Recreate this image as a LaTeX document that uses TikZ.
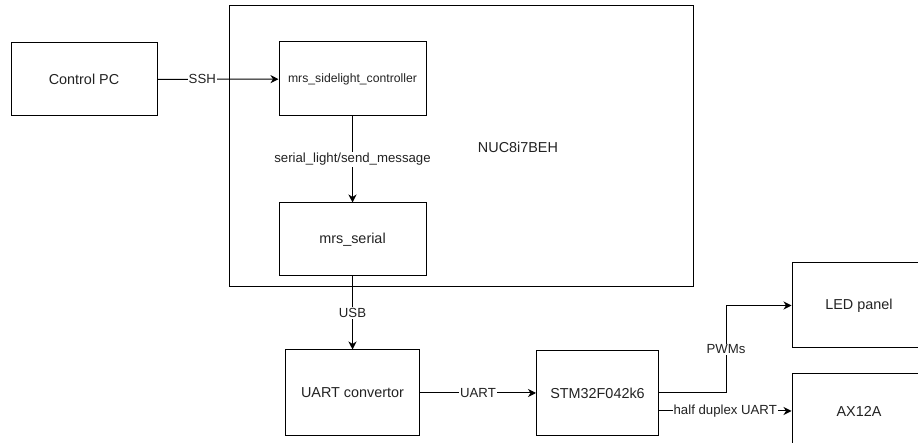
\documentclass[tikz,border=0pt]{standalone}
\usepackage{fontspec}
\setmainfont{Liberation Sans}
\usetikzlibrary{positioning,arrows.meta}
\definecolor{cLine}{HTML}{000000}
\definecolor{cText}{HTML}{222222}
\tikzset{
  blk/.style={draw=cLine,line width=1pt,minimum width=134pt,minimum height=85pt,inner sep=0pt,align=center,text=cText,font=\fontsize{14.4}{17}\selectfont},
  edge/.style={-{Stealth[length=8pt,width=8pt,inset=2.5pt]},line width=1pt,draw=cLine},
  elbl/.style={fill=white,inner sep=1pt,text=cText,font=\fontsize{13.2}{15}\selectfont},
}

\begin{document}
\begin{tikzpicture}[x=1pt,y=1pt]
  \clip (0,0) rectangle (918,443);
  \node[blk,minimum width=464pt,minimum height=281pt] (nuc) at (461,296.5) {};
  \node[text=cText,font=\fontsize{14.4}{17}\selectfont] (nuclbl) at (518,296) {NUC8i7BEH};
  \node[blk,minimum width=146pt,minimum height=73pt] (pc) at (84,363.5) {Control PC};
  \node[blk,minimum width=147pt,minimum height=74pt,font=\fontsize{12.2}{14}\selectfont] (ctrl) at (352.5,364) {mrs\_sidelight\_controller};
  \node[blk,minimum width=147pt,minimum height=73pt,below=86pt of ctrl] (ser) {mrs\_serial};
  \node[blk,minimum height=86pt,below=73pt of ser] (uart) {UART convertor};
  \node[blk,minimum width=122pt,right=116pt of uart] (stm) {STM32F042k6};
  \node[blk] (led) at (859,137.5) {LED panel};
  \node[blk,minimum height=74pt,below=25pt of led] (ax) {AX12A};
  \draw[edge] (pc) -- node[elbl,pos=0.37] {SSH} (ctrl);
  \draw[edge] (ctrl) -- node[elbl] {serial\_light/send\_message} (ser);
  \draw[edge] (ser) -- node[elbl] {USB} (uart);
  \draw[edge] (uart) -- node[elbl] {UART} (stm);
  \draw[edge] (stm.east) -- ++(67pt,0) |- node[elbl,pos=0.25] {PWMs} (led.west);
  \draw[edge] (ax.west -| stm.east) -- node[elbl] {half duplex UART} (ax.west);
\end{tikzpicture}
\end{document}
